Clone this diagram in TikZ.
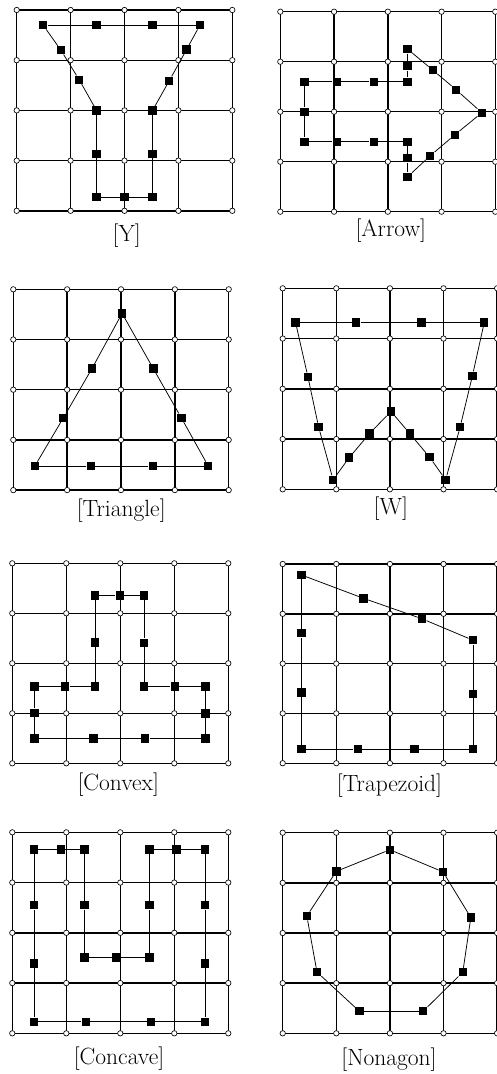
\documentclass[tikz,border=0pt]{standalone}
\usepackage{tikz}
\tikzset{
  gridline/.style={line width=1.4pt, black},
  vtx/.style={circle, draw=black, fill=white, line width=0.65pt, inner sep=0pt, minimum size=5.4pt},
  sq/.style={rectangle, fill=black, inner sep=0pt, minimum size=8.4pt},
  edgeline/.style={line width=0.75pt, black},
  lab/.style={font=\fontsize{23.5}{28}\selectfont, anchor=base}
}
\newcommand\drawgrid[1]{%
  \foreach \i in {0,...,4} {\draw[gridline] (\i,0) -- (\i,4); \draw[gridline] (0,\i) -- (4,\i);}
  \foreach \i in {0,...,4} {\foreach \j in {0,...,4} {\node[vtx] (#1v\i\j) at (\i,\j) {};}}
}
\newcommand\drawpoly[3]{%
  \foreach [count=\k] \p in {#3} {\node[sq] (#1\k) at \p {};}
  \foreach \k in {1,...,#2} {\pgfmathtruncatemacro\nx{mod(\k,#2)+1}\draw[edgeline] (#1\k) -- (#1\nx);}
}
\begin{document}
\begin{tikzpicture}[x=1pt,y=-1pt]
\useasboundingbox (0,0) rectangle (497,1074);
% Y
\begin{scope}[shift={(16.7pt,-10pt)}, x=53.9pt, y=-50.2pt]
  \drawgrid{A}
  \drawpoly{A}{15}{(0.49,0.3),(1.48,0.3),(2.52,0.3),(3.4,0.3),(3.15,0.79),(2.83,1.41),(2.52,2.0),(2.52,2.87),(2.52,3.73),(2.0,3.73),(1.48,3.73),(1.48,2.87),(1.48,2.0),(1.16,1.39),(0.82,0.8)}
\end{scope}
% Arrow
\begin{scope}[shift={(280.3pt,-11.7pt)}, x=53.75pt, y=-50pt]
  \drawgrid{B}
  \drawpoly{B}{18}{(2.37,0.75),(2.37,1.09),(2.37,1.4),(1.74,1.4),(1.05,1.4),(0.45,1.4),(0.45,2.0),(0.45,2.6),(1.05,2.6),(1.74,2.6),(2.37,2.6),(2.37,2.93),(2.37,3.3),(2.79,2.88),(3.25,2.46),(3.75,2.02),(3.27,1.56),(2.84,1.17)}
\end{scope}
% Triangle
\begin{scope}[shift={(13.3pt,-289.3pt)}, x=53.85pt, y=-50.2pt]
  \drawgrid{C}
  \drawpoly{C}{9}{(2.02,0.48),(2.6,1.58),(3.12,2.56),(3.62,3.52),(2.59,3.52),(1.44,3.52),(0.40,3.52),(0.93,2.56),(1.46,1.58)}
\end{scope}
% W
\begin{scope}[shift={(282.7pt,-288.3pt)}, x=53.6pt, y=-50.25pt]
  \drawgrid{D}
  \drawpoly{D}{15}{(0.24,0.68),(1.37,0.68),(2.59,0.68),(3.76,0.68),(3.54,1.74),(3.31,2.76),(3.04,3.81),(2.74,3.36),(2.37,2.89),(2.02,2.45),(1.62,2.89),(1.24,3.37),(0.94,3.81),(0.67,2.76),(0.47,1.76)}
\end{scope}
% Convex
\begin{scope}[shift={(12.3pt,-563.3pt)}, x=54pt, y=-50pt]
  \drawgrid{E}
  \drawpoly{E}{17}{(1.53,0.64),(1.99,0.64),(2.44,0.64),(2.44,1.59),(2.44,2.46),(3.01,2.46),(3.58,2.46),(3.58,3.0),(3.58,3.5),(2.46,3.5),(1.5,3.5),(0.41,3.5),(0.41,2.99),(0.41,2.46),(0.98,2.46),(1.53,2.46),(1.53,1.58)}
\end{scope}
% Trapezoid
\begin{scope}[shift={(282.7pt,-564pt)}, x=53.6pt, y=-49.8pt]
  \drawgrid{F}
  \drawpoly{F}{11}{(0.35,0.22),(1.51,0.69),(2.6,1.1),(3.55,1.53),(3.55,2.61),(3.55,3.72),(2.46,3.72),(1.4,3.72),(0.35,3.72),(0.35,2.58),(0.35,1.39)}
\end{scope}
% Concave
\begin{scope}[shift={(12.3pt,-832.3pt)}, x=54pt, y=-50.25pt]
  \drawgrid{G}
  \drawpoly{G}{19}{(0.4,0.34),(0.9,0.34),(1.34,0.34),(1.34,1.45),(1.34,2.49),(1.92,2.49),(2.54,2.49),(2.54,1.45),(2.54,0.34),(3.04,0.34),(3.57,0.34),(3.57,1.45),(3.57,2.61),(3.57,3.77),(2.57,3.77),(1.36,3.77),(0.4,3.77),(0.4,2.61),(0.4,1.45)}
\end{scope}
% Nonagon
\begin{scope}[shift={(282.7pt,-832.7pt)}, x=53.6pt, y=-50.15pt]
  \drawgrid{H}
  \drawpoly{H}{9}{(2.0,0.34),(2.99,0.78),(3.51,1.69),(3.36,2.78),(2.62,3.56),(1.43,3.56),(0.64,2.78),(0.45,1.66),(1.0,0.77)}
\end{scope}
% labels
\node[lab] (LY) at (126.7,241) {[Y]};
\node[lab] (LArrow) at (390.8,236) {[Arrow]};
\node[lab] (LTri) at (121.2,516) {[Triangle]};
\node[lab] (LW) at (390.8,514) {[W]};
\node[lab] (LConv) at (118.3,790) {[Convex]};
\node[lab] (LTrap) at (389.5,791) {[Trapezoid]};
\node[lab] (LConc) at (119,1064) {[Concave]};
\node[lab] (LNon) at (389,1065) {[Nonagon]};
\end{tikzpicture}
\end{document}
